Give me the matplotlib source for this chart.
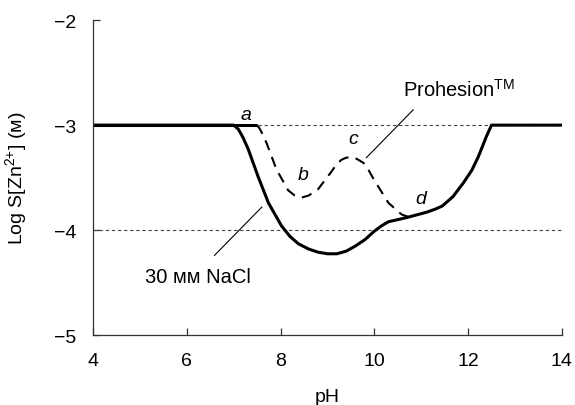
import matplotlib
matplotlib.use("Agg")
import matplotlib.pyplot as plt

plt.rcParams['font.family'] = ['Liberation Sans', 'DejaVu Sans']

# 30 mM NaCl curve (solid)
nacl_ph = [4.0, 7.0, 7.1, 7.2, 7.31, 7.52, 7.74, 8.02, 8.2, 8.38, 8.6, 8.8, 9.0, 9.2,
           9.4, 9.6, 9.8, 10.0, 10.15, 10.3, 10.5, 10.69, 10.9, 11.11, 11.3, 11.45,
           11.68, 11.9, 12.08, 12.22, 12.39, 12.5, 14.0]
nacl_logs = [-3.0, -3.0, -3.04, -3.12, -3.23, -3.49, -3.74, -3.96, -4.06, -4.13, -4.18,
             -4.21, -4.225, -4.225, -4.20, -4.15, -4.09, -4.01, -3.96, -3.92, -3.90, -3.88,
             -3.855, -3.83, -3.80, -3.77, -3.68, -3.55, -3.43, -3.30, -3.11, -3.0, -3.0]

# Prohesion curve (flat part solid, then dashed)
proh_ph = [4.0, 7.49, 7.55, 7.62, 7.70, 7.91, 8.16, 8.3, 8.45, 8.6, 8.80, 9.09, 9.2,
           9.3, 9.4, 9.5, 9.62, 9.77, 9.88, 9.98, 10.3, 10.58, 10.76]
proh_logs = [-3.0, -3.0, -3.03, -3.09, -3.17, -3.42, -3.62, -3.67, -3.69, -3.67, -3.61,
             -3.44, -3.37, -3.33, -3.31, -3.305, -3.32, -3.36, -3.43, -3.51, -3.74, -3.85,
             -3.88]

ref_levels = [-3, -4]
point_labels = ["a", "b", "c", "d"]
point_ph = [7.26, 8.48, 9.54, 11.0]
point_logs = [-2.9, -3.47, -3.13, -3.70]

fig = plt.figure(figsize=(5.75, 4.06), dpi=100)
ax = fig.add_axes([0.162, 0.172, 0.815, 0.776])

for lv in ref_levels:
    ax.plot([4, 14], [lv, lv], color='#444444', lw=0.8, dashes=(3, 2.5))

ax.plot(proh_ph[:2], proh_logs[:2], color='black', lw=2.2, solid_capstyle='butt')
ax.plot(proh_ph[1:], proh_logs[1:], color='black', lw=1.5, dashes=(5, 3.5))
ax.plot(nacl_ph, nacl_logs, color='black', lw=2.2, solid_joinstyle='round')

for t, x, y in zip(point_labels, point_ph, point_logs):
    ax.text(x, y, t, style='italic', fontsize=14, ha='center', va='center')

# leader lines + labels
ax.plot([10.83, 9.83], [-2.854, -3.31], color='black', lw=0.8)
ax.text(10.61, -2.65, r"Prohesion$\mathregular{^{TM}}$", fontsize=14.5, ha='left', va='center')
ax.plot([6.59, 7.6], [-4.24, -3.78], color='black', lw=0.8)
ax.text(6.24, -4.44, "30 \u1d0d\u1d0d NaCl", fontsize=14.5, ha='center', va='center')

ax.set_xlim(4, 14)
ax.set_ylim(-5, -2)
ax.set_xticks([4, 6, 8, 10, 12, 14])
ax.set_yticks([-2, -3, -4, -5])
ax.set_yticklabels(["\u22122", "\u22123", "\u22124", "\u22125"])
ax.spines['top'].set_visible(False)
ax.spines['right'].set_visible(False)
for s in ['left', 'bottom']:
    ax.spines[s].set_color('#333333')
    ax.spines[s].set_linewidth(0.9)
ax.tick_params(direction='in', length=5, width=0.9, color='#333333', labelsize=14)
ax.tick_params(axis='x', pad=12)
ax.tick_params(axis='y', pad=12)
ax.set_xlabel("pH", fontsize=14, labelpad=14)
ax.set_ylabel("Log S[Zn$\\mathregular{^{2{+}}}$] (\u1d0d)", fontsize=14, labelpad=18)

fig.savefig("out.png", dpi=100)
